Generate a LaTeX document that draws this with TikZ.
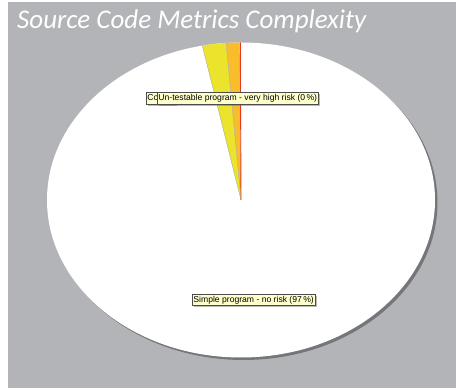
\documentclass[tikz,border=0pt]{standalone}
\usepackage{fontspec}
\setmainfont{Liberation Sans}
\newfontfamily\titlefont{Carlito}
\usetikzlibrary{shadows,calc}
\definecolor{panelgray}{HTML}{B3B4B8}
\definecolor{rimgray}{HTML}{75767A}
\definecolor{slicey}{HTML}{EBE32C}
\definecolor{sliceo}{HTML}{F8BC2C}
\definecolor{slicer}{HTML}{E4391C}
\definecolor{tipfill}{HTML}{FFFFCC}
\tikzset{
  tip/.style={draw=black!70, line width=0.5pt, fill=tipfill,
    font=\fontsize{8.6}{9}\selectfont, inner xsep=1.2pt, inner ysep=1.2pt,
    drop shadow={shadow xshift=2pt, shadow yshift=-2pt, opacity=0.45, fill=black!60}},
  slice/.style={draw=black!35, line width=0.35pt}
}
\begin{document}
\begin{tikzpicture}[x=1pt,y=1pt]
  \useasboundingbox (0,0) rectangle (456,390);
  \fill[white] (0,0) rectangle (456,390);
  \fill[panelgray] (8,2) rectangle (456,388);
  % title
  \node[anchor=base west, inner sep=0, text=white,
        font=\titlefont\itshape\fontsize{27}{30}\selectfont] (title) at (17,361)
        {Source Code Metrics Complexity};
  % pie body with its rim shadow
  \coordinate (c) at (241,190);
  \fill[rimgray] ([shift={(2.5,-2.5)}]c) ellipse [x radius=194, y radius=157.5];
  \fill[white] (c) ellipse [x radius=194, y radius=157.5];
  % thin slices near the top
  \fill[slicey] (c) -- ++(94.4:194 and 157.5)
     \foreach \a in {95,96,...,101} { -- ($(c)+(\a:194 and 157.5)$) } -- ($(c)+(101.5:194 and 157.5)$) -- cycle;
  \draw[slice] (c) -- ++(101.5:194 and 157.5);
  \fill[sliceo] (c) -- ++(90.4:194 and 157.5)
     \foreach \a in {91,92,93,94} { -- ($(c)+(\a:194 and 157.5)$) } -- ($(c)+(94.4:194 and 157.5)$) -- cycle;
  \draw[slice] (c) -- ++(94.4:194 and 157.5);
  \draw[slicer, line width=0.9pt] (c) -- ++(90.2:194 and 157.5);
  % labels
  \node[tip, anchor=west, minimum height=12pt, text width=26pt] (lc) at (146,292) {Co};
  \node[tip, anchor=west, minimum height=12pt] (lu) at (157,292)
        {Un-testable program - very high risk (0\,\%)};
  \node[tip, anchor=west, minimum height=11pt] (ls) at (192,90)
        {Simple program - no risk (97\,\%)};
\end{tikzpicture}
\end{document}
